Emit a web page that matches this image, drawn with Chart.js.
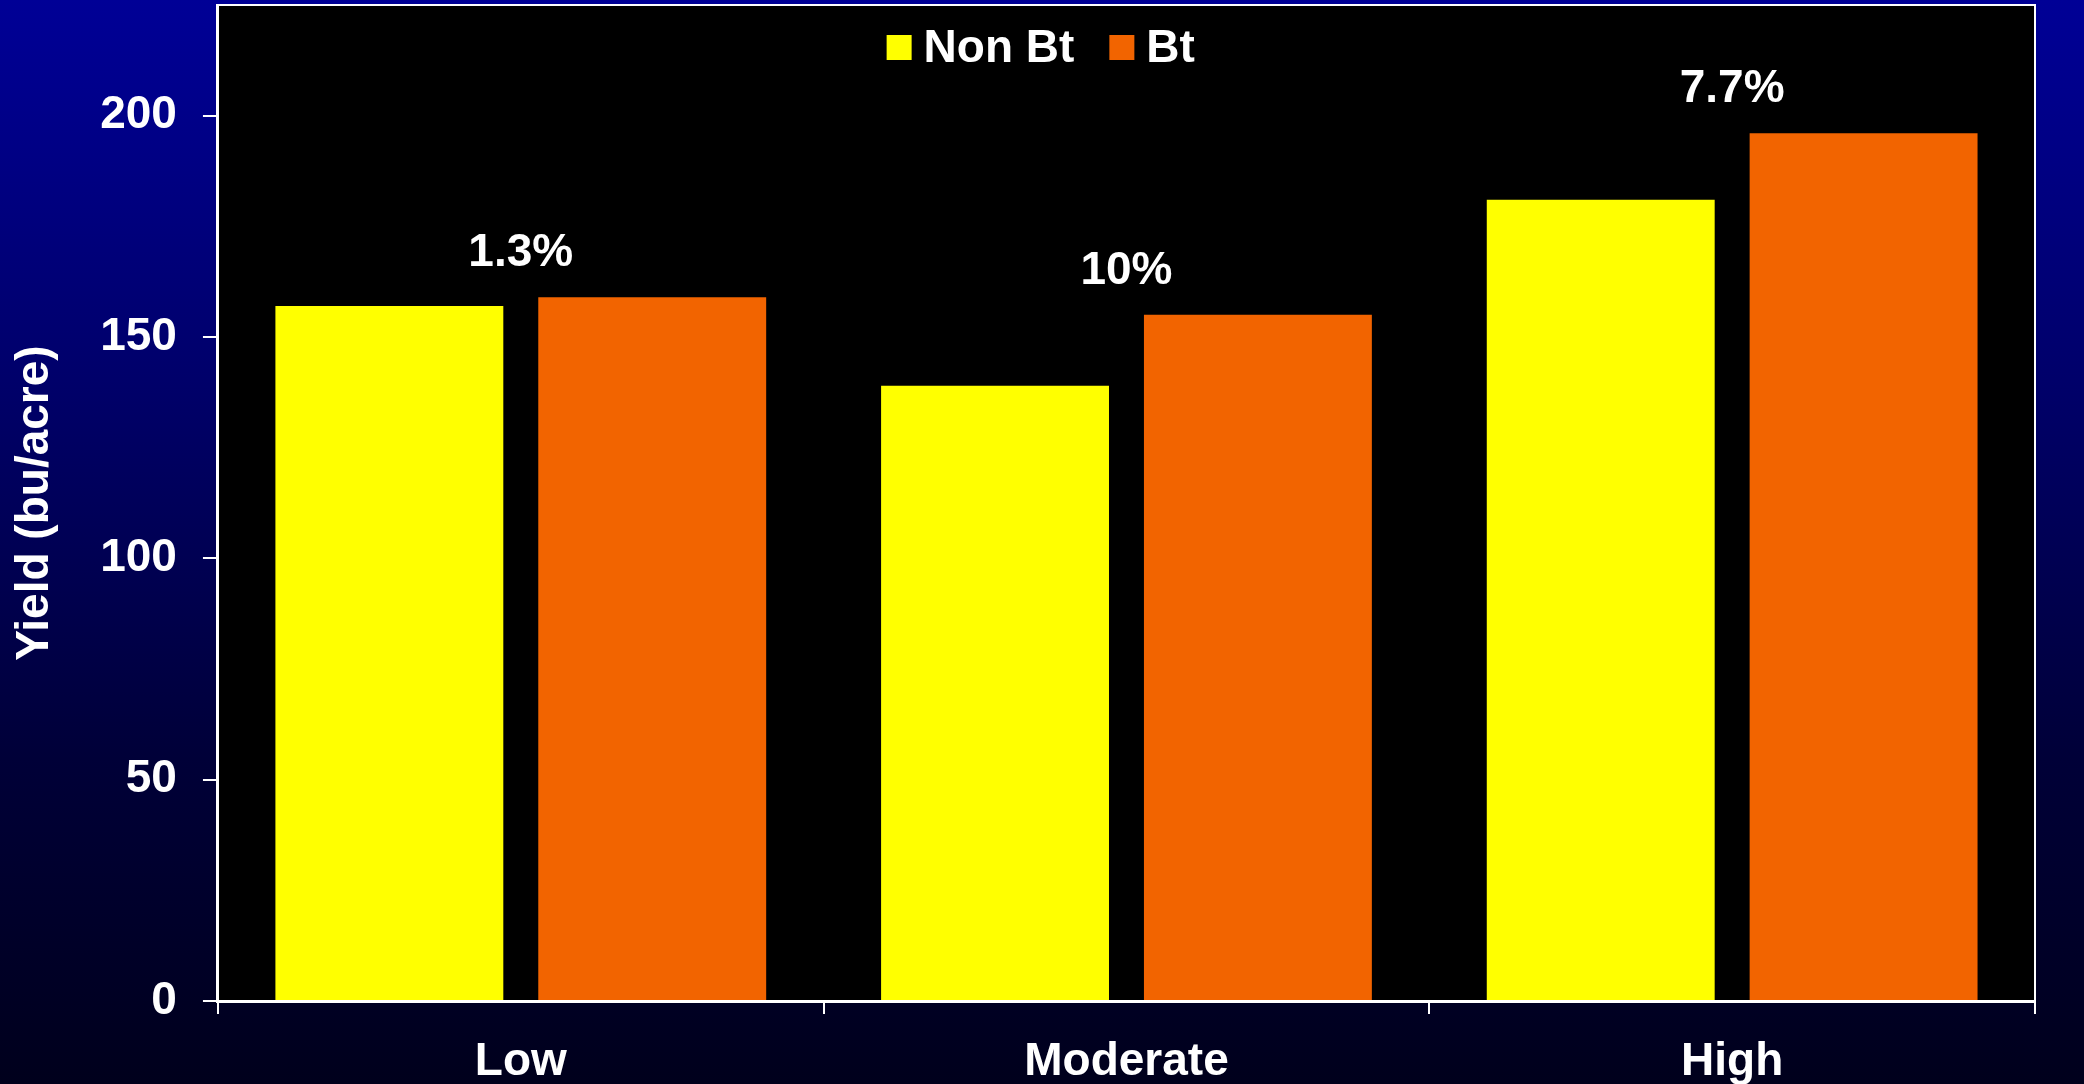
<!DOCTYPE html>
<html>
<head>
<meta charset="utf-8">
<script src="https://cdn.jsdelivr.net/npm/chart.js@4.4.1/dist/chart.umd.min.js"></script>
<style>
  html, body { margin: 0; padding: 0; overflow: hidden; }
  body { width: 2084px; height: 1084px; background: linear-gradient(to bottom, #000096 0%, #00006a 35%, #000038 70%, #00001c 100%); }
  #wrap { position: relative; width: 2084px; height: 1084px; }
</style>
</head>
<body>
<div id="wrap"><canvas id="yieldChart"></canvas></div>
<script>
// data
const categories = ['Low', 'Moderate', 'High'];
const nonBtYield = [157, 139, 181];
const btYield = [159, 155, 196];
const gainLabels = ['1.3%', '10%', '7.7%'];
const yTicks = [0, 50, 100, 150, 200];

const colorYellow = '#FFFF00';
const colorOrange = '#F26400';
const fontFamily = '"Liberation Sans", Arial, sans-serif';

// black plot area + white frame
const plotFrame = {
    id: 'plotFrame',
    beforeDraw(chart) {
        const a = chart.chartArea;
        const ctx = chart.ctx;
        ctx.save();
        ctx.fillStyle = '#000000';
        ctx.fillRect(a.left, a.top, a.right - a.left, a.bottom - a.top);
        ctx.restore();
    },
    afterDraw(chart) {
        const a = chart.chartArea;
        const ctx = chart.ctx;
        ctx.save();
        ctx.strokeStyle = '#ffffff';
        ctx.lineWidth = 2;
        ctx.beginPath();
        ctx.moveTo(a.left, a.top);
        ctx.lineTo(a.right, a.top);
        ctx.lineTo(a.right, a.bottom);
        ctx.stroke();
        ctx.restore();
    }
};

// legend inside plot + percent labels over each group
const overlayText = {
    id: 'overlayText',
    afterDatasetsDraw(chart) {
        const ctx = chart.ctx;
        const a = chart.chartArea;
        const xs = chart.scales.x;
        const ys = chart.scales.y;
        ctx.save();
        ctx.font = 'bold 46px ' + fontFamily;
        ctx.fillStyle = '#ffffff';
        ctx.textAlign = 'center';
        ctx.textBaseline = 'alphabetic';
        gainLabels.forEach(function(lbl, i) {
            const top = Math.max(nonBtYield[i], btYield[i]);
            ctx.fillText(lbl, xs.getPixelForValue(i), ys.getPixelForValue(top) - 31);
        });

        // legend
        let x = a.left + (a.right - a.left) * 0.368;
        const yMid = a.top + 42;
        ctx.textAlign = 'left';
        ctx.textBaseline = 'middle';
        chart.data.datasets.forEach(function(ds) {
            ctx.fillStyle = ds.backgroundColor;
            ctx.fillRect(x, yMid - 12, 25, 25);
            x += 37;
            ctx.fillStyle = '#ffffff';
            ctx.fillText(ds.label, x, yMid + 2);
            x += ctx.measureText(ds.label).width + 35;
        });
        ctx.restore();
    }
};

const ctx = document.getElementById('yieldChart').getContext('2d');
new Chart(ctx, {
    type: 'bar',
    data: {
        labels: categories,
        datasets: [
            { label: 'Non Bt', data: nonBtYield, backgroundColor: colorYellow, borderWidth: 0 },
            { label: 'Bt', data: btYield, backgroundColor: colorOrange, borderWidth: 0 }
        ]
    },
    options: {
        responsive: true,
        maintainAspectRatio: false,
        animation: false,
        categoryPercentage: 0.868,
        barPercentage: 0.867,
        layout: { padding: { left: 8, right: 49, top: 5, bottom: 0 } },
        scales: {
            x: {
                afterFit: function(scale) {
                    scale.height = 83;
                },
                grid: { display: true, drawOnChartArea: false, drawTicks: true, tickLength: 13, color: '#ffffff', lineWidth: 2, offset: true },
                border: { display: true, color: '#ffffff', width: 3 },
                ticks: { color: '#ffffff', padding: 21, font: { family: fontFamily, size: 46, weight: 'bold' } }
            },
            y: {
                min: 0,
                max: 225,
                afterBuildTicks: function(scale) {
                    scale.ticks = yTicks.map(function(v) { return { value: v }; });
                },
                afterFit: function(scale) {
                    scale.paddingTop = 0;
                    scale.paddingBottom = 0;
                },
                grid: { display: true, drawOnChartArea: false, drawTicks: true, tickLength: 15, color: '#ffffff', lineWidth: 2 },
                border: { display: true, color: '#ffffff', width: 3 },
                ticks: { color: '#ffffff', padding: 26, font: { family: fontFamily, size: 46, weight: 'bold' } },
                title: {
                    display: true,
                    text: 'Yield (bu/acre)',
                    color: '#ffffff',
                    padding: { top: 0, bottom: 11 },
                    font: { family: fontFamily, size: 46, weight: 'bold' }
                }
            }
        },
        plugins: {
            legend: { display: false },
            tooltip: { enabled: false }
        }
    },
    plugins: [plotFrame, overlayText]
});
</script>
</body>
</html>
